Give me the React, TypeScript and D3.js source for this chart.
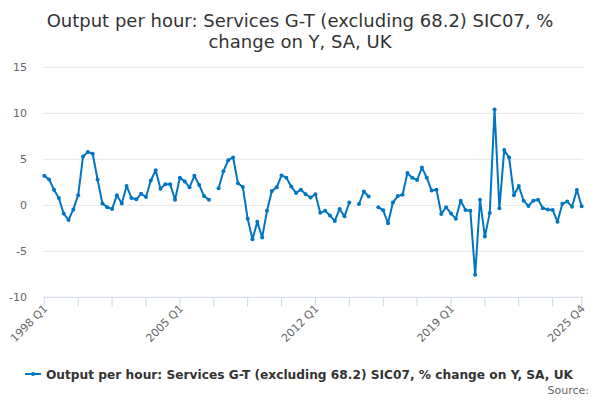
import React from "react";
import * as d3 from "d3";

const years = d3.range(1998, 2026);
const quarters = ["Q1", "Q2", "Q3", "Q4"];
const categories: string[] = years.flatMap((y) => quarters.map((q) => `${y} ${q}`));

const values: (number | null)[] = [
  3.2, 2.8, 1.7, 0.8, -0.9, -1.6, -0.45, 1.1, 5.3, 5.8, 5.6, 2.8,
  0.2, -0.2, -0.4, 1.1, 0.2, 2.1, 0.8, 0.65, 1.25, 0.9, 2.7, 3.8,
  1.8, 2.3, 2.3, 0.6, 3.0, 2.6, 1.95, 3.2, 2.2, 1.0, 0.6, null,
  1.85, 3.7, 4.9, 5.2, 2.4, 2.0, -1.45, -3.7, -1.8, -3.5, -0.6, 1.55,
  1.95, 3.25, 3.0, 2.05, 1.35, 1.7, 1.2, 0.85, 1.2, -0.8, -0.6, -1.1,
  -1.7, -0.4, -1.2, 0.3, null, 0.14, 1.5, 0.95, null, -0.2, -0.55, -1.95,
  0.3, 1.0, 1.15, 3.5, 3.0, 2.75, 4.1, 3.0, 1.6, 1.7, -0.95, -0.2,
  -0.9, -1.45, 0.5, -0.5, -0.6, -7.55, 0.6, -3.4, -0.85, 10.4, -0.33, 6.0,
  5.2, 1.1, 2.1, 0.5, -0.08, 0.5, 0.6, -0.33, -0.45, -0.5, -1.8, 0.17,
  0.4, -0.15, 1.66, -0.1,
];

const yTicks = [-10, -5, 0, 5, 10, 15];
const xLabelCats = ["1998 Q1", "2005 Q1", "2012 Q1", "2019 Q1", "2025 Q4"];
const titleLines = ["Output per hour: Services G-T (excluding 68.2) SIC07, %", "change on Y, SA, UK"];
const seriesName = "Output per hour: Services G-T (excluding 68.2) SIC07, % change on Y, SA, UK";

const FONT = "'DejaVu Sans', sans-serif";
const COLOR = "#0075c1";

export default function App() {
  const W = 600, H = 400;
  const x = d3.scaleLinear().domain([0, categories.length - 1]).range([44.3, 581.7]);
  const y = d3.scaleLinear().domain([-10, 15]).range([297.3, 67.3]);
  const pts = values.map((v, i) => ({ i, v }));
  const line = d3
    .line<{ i: number; v: number | null }>()
    .defined((d) => d.v !== null)
    .x((d) => x(d.i))
    .y((d) => y(d.v as number));
  const tickIdx = d3.range(0, categories.length, 7).concat([categories.length - 1]);

  return (
    <svg width={W} height={H} style={{ position: "absolute", left: 0, top: 0, background: "#fff" }} fontFamily={FONT}>
      <rect width={W} height={H} fill="#fff" />
      {titleLines.map((t, k) => (
        <text key={k} x={300} y={27 + k * 21} textAnchor="middle" fontSize={18} fill="#333">
          {t}
        </text>
      ))}
      {yTicks.map((t) => (
        <g key={t}>
          {t !== -10 && <line x1={43} x2={583} y1={y(t)} y2={y(t)} stroke="#e6e6e6" strokeWidth={1} />}
          <text x={27} y={y(t) + 4} textAnchor="end" fontSize={11} fill="#666">
            {t}
          </text>
        </g>
      ))}
      <line x1={43} x2={583} y1={y(-10)} y2={y(-10)} stroke="#ccd6eb" strokeWidth={1} />
      {tickIdx.map((i) => (
        <line key={i} x1={x(i)} x2={x(i)} y1={y(-10)} y2={y(-10) + 9} stroke="#ccd6eb" strokeWidth={1} />
      ))}
      {xLabelCats.map((c) => {
        const i = categories.indexOf(c);
        const tx = x(i) + 4;
        const ty = y(-10) + 12;
        return (
          <text key={c} x={tx} y={ty} textAnchor="end" fontSize={11} fill="#666" transform={`rotate(-45 ${tx} ${ty})`}>
            {c}
          </text>
        );
      })}
      <path d={line(pts) || ""} fill="none" stroke={COLOR} strokeWidth={2} strokeLinejoin="round" />
      {pts
        .filter((d) => d.v !== null)
        .map((d) => (
          <circle key={d.i} cx={x(d.i)} cy={y(d.v as number)} r={2} fill={COLOR} />
        ))}
      <g>
        <line x1={25} x2={41} y1={374} y2={374} stroke={COLOR} strokeWidth={2} />
        <circle cx={33} cy={374} r={2} fill={COLOR} />
        <text x={46} y={378.5} fontSize={12.5} fontWeight="bold" fill="#333" textLength={527} lengthAdjust="spacingAndGlyphs">
          {seriesName}
        </text>
      </g>
      <text x={589} y={394} textAnchor="end" fontSize={11} fill="#666">
        Source:
      </text>
    </svg>
  );
}
